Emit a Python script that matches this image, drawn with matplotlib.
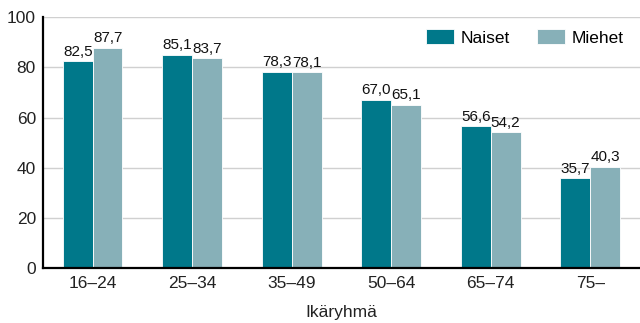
import numpy as np
import matplotlib.pyplot as plt

plt.rcParams['font.family'] = ['Liberation Sans', 'DejaVu Sans']

age_groups = ['16–24', '25–34', '35–49', '50–64', '65–74', '75–']
naiset = [82.5, 85.1, 78.3, 67.0, 56.6, 35.7]
miehet = [87.7, 83.7, 78.1, 65.1, 54.2, 40.3]

c_naiset = '#00788a'
c_miehet = '#87b0b8'

fig = plt.figure(figsize=(6.4, 3.23), dpi=100)
ax = fig.add_axes([0.067, 0.170, 0.933, 0.777])

x = np.arange(len(age_groups))
w = 0.3
b1 = ax.bar(x - w / 2, naiset, w, color=c_naiset, edgecolor='white', linewidth=0.6, label='Naiset', zorder=2)
b2 = ax.bar(x + w / 2, miehet, w, color=c_miehet, edgecolor='white', linewidth=0.6, label='Miehet', zorder=2)

for bars in (b1, b2):
    for r in bars:
        v = r.get_height()
        ax.text(r.get_x() + r.get_width() / 2, v + 1.0, f'{v:.1f}'.replace('.', ','),
                ha='center', va='bottom', fontsize=11, color='#111111')

ax.set_xlim(-0.5, 5.5)
ax.set_ylim(0, 100)
ax.set_yticks(range(0, 101, 20))
ax.set_xticks(x)
ax.set_xticklabels(age_groups)
ax.tick_params(axis='both', length=0, labelsize=12.5, colors='#222222')
ax.tick_params(axis='x', pad=6)
ax.tick_params(axis='y', pad=5)
ax.yaxis.grid(True, color='#d0d0d0', linewidth=1)
ax.set_axisbelow(True)
for s in ['top', 'right']:
    ax.spines[s].set_visible(False)
ax.spines['left'].set_linewidth(1.6)
ax.spines['bottom'].set_linewidth(1.6)
ax.set_xlabel('Ikäryhmä', fontsize=12.5, color='#222222', labelpad=10)

ax.legend(loc='center right', bbox_to_anchor=(0.995, 0.92), ncol=2, frameon=True, framealpha=1,
          edgecolor='white', fontsize=12.5, handlelength=1.6, handleheight=1.0,
          columnspacing=1.6, handletextpad=0.35, borderpad=0.3, fancybox=False)

fig.savefig('out.png', dpi=100)
